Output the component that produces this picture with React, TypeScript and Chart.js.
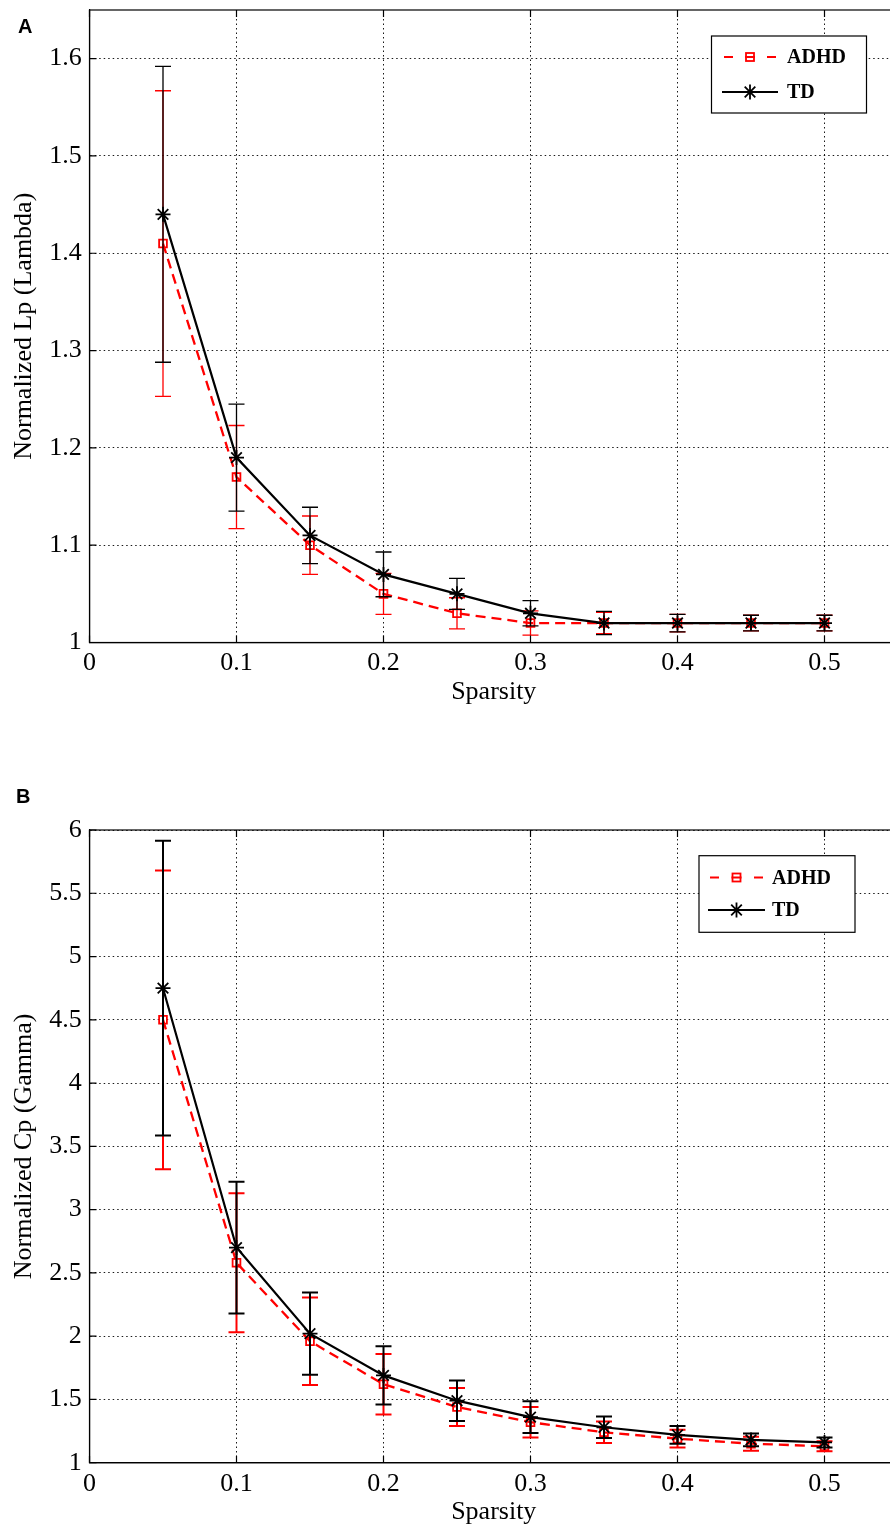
import React, { useEffect, useRef } from 'react';
import { Chart, registerables } from 'chart.js';

Chart.register(...registerables);

// ---------------- data ----------------
const sparsity = [0.05, 0.1, 0.15, 0.2, 0.25, 0.3, 0.35, 0.4, 0.45, 0.5];
const seriesNames = ['ADHD', 'TD'];

const xTicks = [0, 0.1, 0.2, 0.3, 0.4, 0.5];
const xTickLabels = ['0', '0.1', '0.2', '0.3', '0.4', '0.5'];

// Panel A: Normalized Lp (Lambda)
const lambdaADHD = [1.41, 1.17, 1.10, 1.05, 1.03, 1.02, 1.02, 1.02, 1.02, 1.02];
const lambdaADHDErr = [0.157, 0.053, 0.030, 0.021, 0.016, 0.0125, 0.011, 0.009, 0.008, 0.008];
const lambdaTD = [1.44, 1.19, 1.11, 1.07, 1.05, 1.03, 1.02, 1.02, 1.02, 1.02];
const lambdaTDErr = [0.152, 0.055, 0.029, 0.023, 0.016, 0.013, 0.012, 0.009, 0.008, 0.008];
const lambdaYTicks = [1, 1.1, 1.2, 1.3, 1.4, 1.5, 1.6];
const lambdaYTickLabels = ['1', '1.1', '1.2', '1.3', '1.4', '1.5', '1.6'];

// Panel B: Normalized Cp (Gamma)
const gammaADHD = [4.5, 2.58, 1.96, 1.62, 1.44, 1.32, 1.24, 1.19, 1.15, 1.13];
const gammaADHDErr = [1.18, 0.55, 0.345, 0.24, 0.15, 0.12, 0.085, 0.07, 0.055, 0.04];
const gammaTD = [4.75, 2.70, 2.02, 1.69, 1.49, 1.36, 1.28, 1.22, 1.18, 1.16];
const gammaTDErr = [1.165, 0.52, 0.325, 0.23, 0.16, 0.125, 0.085, 0.07, 0.05, 0.04];
const gammaYTicks = [1, 1.5, 2, 2.5, 3, 3.5, 4, 4.5, 5, 5.5, 6];
const gammaYTickLabels = ['1', '1.5', '2', '2.5', '3', '3.5', '4', '4.5', '5', '5.5', '6'];

// ---------------- styling ----------------
const CANVAS_W = 910;
const SERIF = "'Liberation Serif', 'Times New Roman', serif";
const RED = '#ff0000';
const BLACK = '#000000';

type LegendCfg = {
  x: number; y: number; w: number; h: number;
  row1: number; row2: number; lineX1: number; lineX2: number; textX: number;
};

type PanelCfg = {
  letter: string;
  letterTop: number;
  letterLeft: number;
  top: number;
  height: number;
  areaTop: number;
  areaBottom: number;
  yMin: number;
  yMax: number;
  yTicks: number[];
  yTickLabels: string[];
  yTitle: string;
  adhd: number[];
  adhdErr: number[];
  td: number[];
  tdErr: number[];
  errWidth: number;
  xTitlePadBottom: number;
  legend: LegendCfg;
};

const panels: PanelCfg[] = [
  {
    letter: 'A', letterTop: 15.5, letterLeft: 18,
    top: 0, height: 720, areaTop: 10, areaBottom: 642.5,
    yMin: 1, yMax: 1.65, yTicks: lambdaYTicks, yTickLabels: lambdaYTickLabels,
    yTitle: 'Normalized Lp (Lambda)',
    adhd: lambdaADHD, adhdErr: lambdaADHDErr, td: lambdaTD, tdErr: lambdaTDErr,
    errWidth: 1.3, xTitlePadBottom: 12,
    legend: { x: 711.5, y: 36, w: 155, h: 77, row1: 57, row2: 92, lineX1: 722, lineX2: 778, textX: 787 },
  },
  {
    letter: 'B', letterTop: 785.5, letterLeft: 16,
    top: 780, height: 751, areaTop: 50, areaBottom: 682.7,
    yMin: 1, yMax: 6, yTicks: gammaYTicks, yTickLabels: gammaYTickLabels,
    yTitle: 'Normalized Cp (Gamma)',
    adhd: gammaADHD, adhdErr: gammaADHDErr, td: gammaTD, tdErr: gammaTDErr,
    errWidth: 2, xTitlePadBottom: 3,
    legend: { x: 699, y: 75.7, w: 156, h: 76.6, row1: 97.5, row2: 130, lineX1: 708, lineX2: 765, textX: 772 },
  },
];

// ---------------- plugins ----------------
const errorBarPlugin = {
  id: 'errorBars',
  beforeDatasetDraw(chart: any, args: any) {
    const ds = chart.data.datasets[args.index];
    const errs: number[] | undefined = ds.errors;
    if (!errs) return;
    const ys = chart.scales.y;
    const ctx = chart.ctx;
    const cap = ds.capHalf || 8;
    ctx.save();
    ctx.setLineDash([]);
    ctx.strokeStyle = ds.borderColor;
    ctx.lineWidth = ds.errWidth || 1;
    args.meta.data.forEach((pt: any, i: number) => {
      const v = ds.data[i].y;
      const e = errs[i];
      const px = pt.x;
      const yt = ys.getPixelForValue(v + e);
      const yb = ys.getPixelForValue(v - e);
      ctx.beginPath();
      ctx.moveTo(px, yt);
      ctx.lineTo(px, yb);
      ctx.moveTo(px - cap, yt);
      ctx.lineTo(px + cap, yt);
      ctx.moveTo(px - cap, yb);
      ctx.lineTo(px + cap, yb);
      ctx.stroke();
    });
    ctx.restore();
  },
};

function drawAsterisk(ctx: CanvasRenderingContext2D, x: number, y: number, r: number) {
  ctx.beginPath();
  for (let k = 0; k < 4; k++) {
    const a = (k * Math.PI) / 4;
    ctx.moveTo(x - r * Math.cos(a), y - r * Math.sin(a));
    ctx.lineTo(x + r * Math.cos(a), y + r * Math.sin(a));
  }
  ctx.stroke();
}

const framePlugin = {
  id: 'frame',
  afterDraw(chart: any) {
    const { ctx, chartArea: a } = chart;
    const xs = chart.scales.x;
    const ys = chart.scales.y;
    ctx.save();
    ctx.setLineDash([]);
    ctx.strokeStyle = '#000';
    ctx.lineWidth = 1.2;
    ctx.strokeRect(a.left, a.top, a.right - a.left, a.bottom - a.top);
    // inward tick marks (MATLAB style)
    const tl = 7;
    ctx.beginPath();
    xs.ticks.forEach((t: any) => {
      const px = xs.getPixelForValue(t.value);
      ctx.moveTo(px, a.bottom);
      ctx.lineTo(px, a.bottom - tl);
      ctx.moveTo(px, a.top);
      ctx.lineTo(px, a.top + tl);
    });
    ys.ticks.forEach((t: any) => {
      const py = ys.getPixelForValue(t.value);
      ctx.moveTo(a.left, py);
      ctx.lineTo(a.left + tl, py);
    });
    ctx.stroke();
    ctx.restore();

    // legend
    const lg: LegendCfg = chart.options.plugins.boxLegend;
    if (!lg) return;
    const dsets = chart.data.datasets;
    ctx.save();
    ctx.fillStyle = '#fff';
    ctx.fillRect(lg.x, lg.y, lg.w, lg.h);
    ctx.strokeStyle = '#000';
    ctx.lineWidth = 1.2;
    ctx.strokeRect(lg.x, lg.y, lg.w, lg.h);
    const rows = [lg.row1, lg.row2];
    const mid = (lg.lineX1 + lg.lineX2) / 2;
    dsets.forEach((ds: any, i: number) => {
      const yy = rows[i];
      ctx.strokeStyle = ds.borderColor;
      ctx.lineWidth = 2.2;
      ctx.setLineDash([]);
      ctx.beginPath();
      if (ds.borderDash) {
        ctx.moveTo(lg.lineX1 + 2, yy);
        ctx.lineTo(lg.lineX1 + 11, yy);
        ctx.moveTo(mid - 5, yy);
        ctx.lineTo(mid + 5, yy);
        ctx.moveTo(lg.lineX2 - 11, yy);
        ctx.lineTo(lg.lineX2 - 2, yy);
      } else {
        ctx.moveTo(lg.lineX1, yy);
        ctx.lineTo(lg.lineX2, yy);
      }
      ctx.stroke();
      ctx.lineWidth = 1.8;
      if (ds.pointStyle === 'rect') {
        ctx.strokeRect(mid - 4, yy - 4, 8, 8);
      } else {
        drawAsterisk(ctx, mid, yy, 7.5);
      }
      ctx.fillStyle = '#000';
      ctx.font = `bold 20px ${SERIF}`;
      ctx.textAlign = 'left';
      ctx.textBaseline = 'middle';
      ctx.fillText(ds.label, lg.textX, yy + 1);
    });
    ctx.restore();
  },
};

// ---------------- chart config ----------------
function buildConfig(p: PanelCfg): any {
  const xAxisH = p.height - p.areaBottom;
  const toPts = (vals: number[]) => sparsity.map((s, i) => ({ x: s, y: vals[i] }));
  const tickFont = { family: SERIF, size: 26 };
  const gridDash = [1.5, 3];
  return {
    type: 'line',
    data: {
      datasets: [
        {
          label: seriesNames[0],
          data: toPts(p.adhd),
          errors: p.adhdErr,
          errWidth: p.errWidth,
          capHalf: 8,
          borderColor: RED,
          backgroundColor: RED,
          borderWidth: 2.3,
          borderDash: [10, 6],
          pointStyle: 'rect',
          pointRadius: 5.5,
          pointBorderColor: RED,
          pointBackgroundColor: 'rgba(255,255,255,0)',
          pointBorderWidth: 1.8,
          tension: 0,
          order: 2,
        },
        {
          label: seriesNames[1],
          data: toPts(p.td),
          errors: p.tdErr,
          errWidth: p.errWidth,
          capHalf: 8,
          borderColor: BLACK,
          backgroundColor: BLACK,
          borderWidth: 2.2,
          pointStyle: 'star',
          pointRadius: 7.5,
          pointBorderColor: BLACK,
          pointBorderWidth: 1.8,
          tension: 0,
          order: 1,
        },
      ],
    },
    options: {
      animation: false,
      responsive: false,
      events: [],
      layout: { padding: { left: 0, top: p.areaTop, right: CANVAS_W - 898, bottom: 0 } },
      plugins: {
        legend: { display: false },
        tooltip: { enabled: false },
        boxLegend: p.legend,
      },
      scales: {
        x: {
          type: 'linear',
          position: 'bottom',
          min: 0,
          max: 0.55,
          afterBuildTicks: (s: any) => {
            s.ticks = xTicks.map((v) => ({ value: v }));
          },
          afterFit: (s: any) => {
            s.height = xAxisH;
            s.paddingLeft = 0;
            s.paddingRight = 0;
          },
          ticks: {
            color: '#000',
            font: tickFont,
            padding: 5.5,
            maxRotation: 0,
            autoSkip: false,
            callback: (_v: any, i: number) => xTickLabels[i],
          },
          grid: {
            color: 'rgba(0,0,0,0.9)',
            lineWidth: 1,
            drawTicks: false,
          },
          border: { display: true, color: '#000', width: 1.2, dash: gridDash },
          title: {
            display: true,
            text: 'Sparsity',
            color: '#000',
            font: tickFont,
            padding: { top: 0, bottom: p.xTitlePadBottom },
          },
        },
        y: {
          type: 'linear',
          position: 'left',
          min: p.yMin,
          max: p.yMax,
          afterBuildTicks: (s: any) => {
            s.ticks = p.yTicks.map((v) => ({ value: v }));
          },
          afterFit: (s: any) => {
            s.width = 89.5;
            s.paddingTop = 0;
            s.paddingBottom = 0;
          },
          ticks: {
            color: '#000',
            font: tickFont,
            padding: 7.8,
            autoSkip: false,
            callback: (_v: any, i: number) => p.yTickLabels[i],
          },
          grid: {
            color: 'rgba(0,0,0,0.9)',
            lineWidth: 1,
            drawTicks: false,
          },
          border: { display: true, color: '#000', width: 1.2, dash: gridDash },
          title: {
            display: true,
            text: p.yTitle,
            color: '#000',
            font: tickFont,
            padding: { top: 9, bottom: 0 },
          },
        },
      },
    },
    plugins: [errorBarPlugin, framePlugin],
  };
}

function Panel({ cfg }: { cfg: PanelCfg }) {
  const ref = useRef<HTMLCanvasElement>(null);
  useEffect(() => {
    if (!ref.current) return;
    const chart = new Chart(ref.current, buildConfig(cfg));
    return () => chart.destroy();
  }, [cfg]);
  return (
    <>
      <canvas
        ref={ref}
        width={CANVAS_W}
        height={cfg.height}
        style={{ position: 'absolute', left: 0, top: cfg.top, width: CANVAS_W, height: cfg.height }}
      />
      <div
        style={{
          position: 'absolute',
          left: cfg.letterLeft,
          top: cfg.letterTop,
          font: "bold 20px 'Liberation Sans', Arial, sans-serif",
          lineHeight: '20px',
          color: '#000',
        }}
      >
        {cfg.letter}
      </div>
    </>
  );
}

export default function App() {
  return (
    <div
      style={{
        position: 'fixed',
        left: 0,
        top: 0,
        width: 890,
        height: 1531,
        overflow: 'hidden',
        background: '#fff',
      }}
    >
      {panels.map((p) => (
        <Panel key={p.letter} cfg={p} />
      ))}
    </div>
  );
}
